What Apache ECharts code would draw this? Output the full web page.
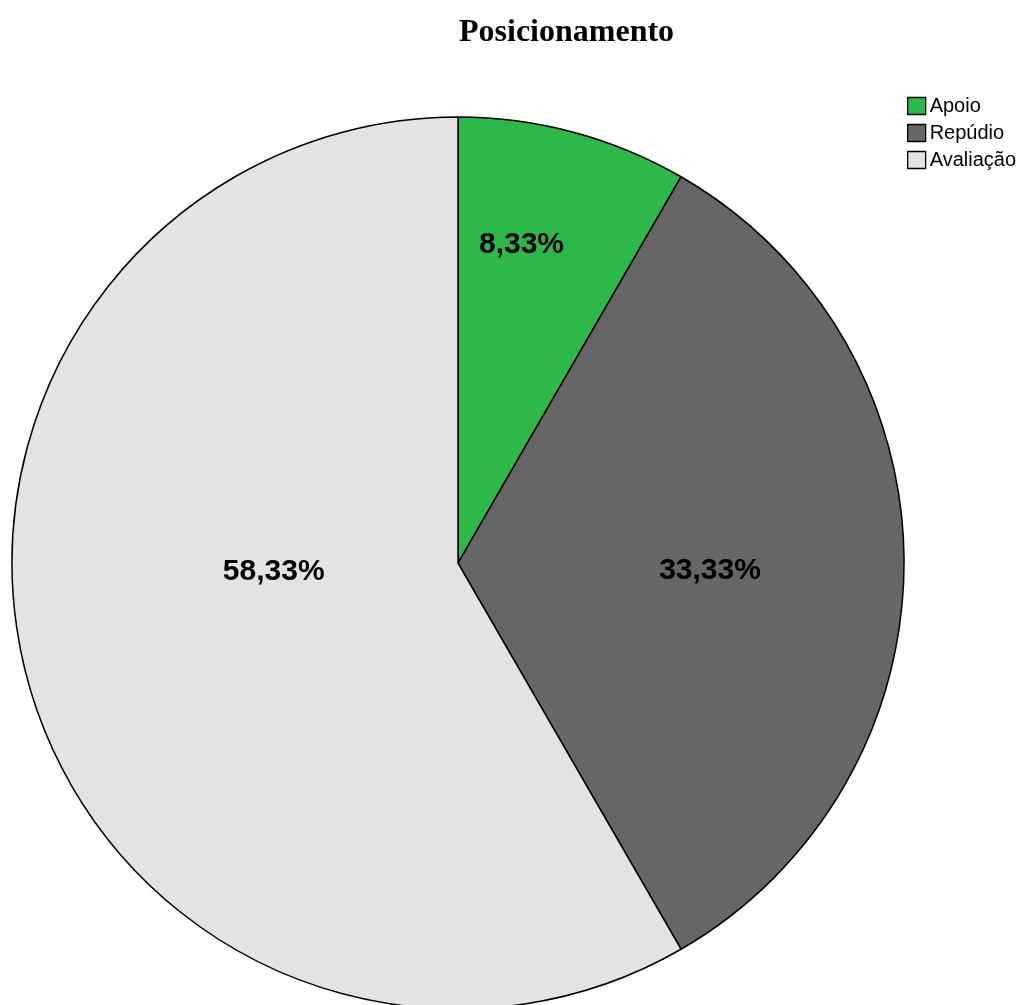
<!DOCTYPE html>
<html><head><meta charset="utf-8">
<script src="https://cdn.jsdelivr.net/npm/echarts@6/dist/echarts.min.js"></script>
<style>html,body{margin:0;padding:0;background:#fff}#c{width:1026px;height:1005px}</style>
</head><body><div id="c"></div>
<script>
const categories = ['Apoio', 'Repúdio', 'Avaliação'];
const counts = [1, 4, 7];
const colors = ['#2fb84a', '#666666', '#e3e3e3'];
const labelOffsets = [[5, -100], [26, 8], [34, -50]];

const total = counts.reduce((a, b) => a + b, 0);
const chart = echarts.init(document.getElementById('c'), null, {renderer: 'canvas'});
chart.setOption({
  animation: false,
  backgroundColor: '#fff',
  title: {
    text: 'Posicionamento', left: 454, top: 12,
    textStyle: {fontFamily: 'Liberation Serif', fontWeight: 'bold', fontSize: 32, color: '#000'}
  },
  legend: {
    orient: 'vertical', left: 907, top: 96, itemWidth: 18, itemHeight: 17, itemGap: 7,
    icon: 'rect', padding: 0,
    itemStyle: {borderColor: '#000', borderWidth: 1.3},
    textStyle: {fontFamily: 'Liberation Sans', fontSize: 20, color: '#000', padding: [0, 0, 0, -1]},
    data: categories
  },
  series: [{
    type: 'pie', center: [458, 563], radius: 446, startAngle: 90, clockwise: true,
    itemStyle: {borderColor: '#000', borderWidth: 1.5},
    label: {
      position: 'inside', fontFamily: 'Liberation Sans', fontWeight: 'bold', fontSize: 30, color: '#000',
      formatter: p => (p.value / total * 100).toFixed(2).replace('.', ',') + '%'
    },
    labelLine: {show: false},
    emphasis: {disabled: true},
    data: categories.map((n, i) => ({
      name: n, value: counts[i], itemStyle: {color: colors[i]},
      label: {offset: labelOffsets[i]}
    }))
  }]
});
</script></body></html>
